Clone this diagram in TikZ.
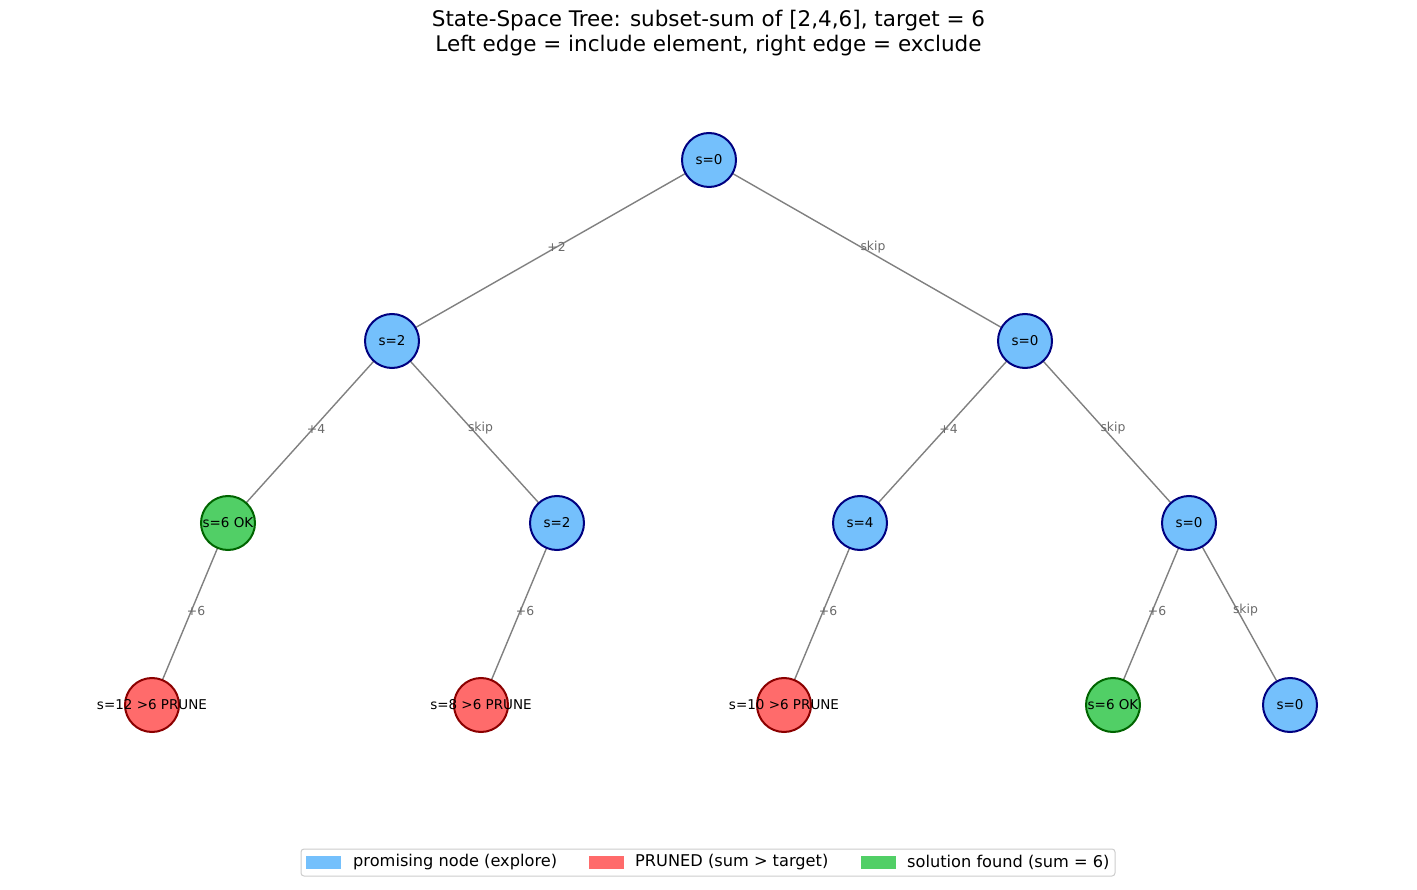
\documentclass[tikz,border=0pt]{standalone}
\usepackage{fontspec}
\setmainfont{DejaVu Sans}
\definecolor{pblue}{HTML}{74C0FC}
\definecolor{pred}{HTML}{FF6B6B}
\definecolor{pgreen}{HTML}{51CF66}
\definecolor{bnavy}{HTML}{000080}
\definecolor{bred}{HTML}{8B0000}
\definecolor{bgreen}{HTML}{006400}
\definecolor{edgegray}{HTML}{808080}
\definecolor{labgray}{HTML}{6A6A6A}
\begin{document}
\begin{tikzpicture}[x=1pt,y=-1pt,
  circ/.style={circle,minimum size=54pt,inner sep=0pt,line width=2pt},
  prom/.style={circ,fill=pblue,draw=bnavy},
  prun/.style={circ,fill=pred,draw=bred},
  sol/.style={circ,fill=pgreen,draw=bgreen},
  ntext/.style={font=\fontsize{13.5}{15}\selectfont,text=black,inner sep=0pt},
  tedge/.style={draw=edgegray,line width=1.4pt},
  elab/.style={font=\fontsize{12.4}{14}\selectfont,text=labgray,inner sep=0pt,xshift=6pt,yshift=3.5pt},
  legpatch/.style={minimum width=35pt,minimum height=13pt,inner sep=0pt},
  legtext/.style={font=\fontsize{16.2}{18}\selectfont,anchor=west,inner sep=0pt}
]
\useasboundingbox (0,0) rectangle (1417,890);
\node[font=\fontsize{21.5}{25}\selectfont,align=center] (title) at (708.5,33.5) {State-Space Tree: subset-sum of [2,4,6], target = 6\\Left edge = include element, right edge = exclude};

\coordinate (c0) at (709,160);
\coordinate (c1) at (392,341);
\coordinate (c2) at (1025,341);
\coordinate (c3) at (228,523);
\coordinate (c4) at (557,523);
\coordinate (c5) at (860,523);
\coordinate (c6) at (1189,523);
\coordinate (c7) at (152,705);
\coordinate (c8) at (481,705);
\coordinate (c9) at (784,705);
\coordinate (c10) at (1113,705);
\coordinate (c11) at (1290,705);

\draw[tedge] (c0) -- node[elab] (e1) {+2} (c1);
\draw[tedge] (c0) -- node[elab] (e2) {skip} (c2);
\draw[tedge] (c1) -- node[elab] (e3) {+4} (c3);
\draw[tedge] (c1) -- node[elab] (e4) {skip} (c4);
\draw[tedge] (c2) -- node[elab] (e5) {+4} (c5);
\draw[tedge] (c2) -- node[elab] (e6) {skip} (c6);
\draw[tedge] (c3) -- node[elab] (e7) {+6} (c7);
\draw[tedge] (c4) -- node[elab] (e8) {+6} (c8);
\draw[tedge] (c5) -- node[elab] (e9) {+6} (c9);
\draw[tedge] (c6) -- node[elab] (e10) {+6} (c10);
\draw[tedge] (c6) -- node[elab] (e11) {skip} (c11);

\node[prom] (n0) at (c0) {};
\node[prom] (n1) at (c1) {};
\node[prom] (n2) at (c2) {};
\node[sol]  (n3) at (c3) {};
\node[prom] (n4) at (c4) {};
\node[prom] (n5) at (c5) {};
\node[prom] (n6) at (c6) {};
\node[prun] (n7) at (c7) {};
\node[prun] (n8) at (c8) {};
\node[prun] (n9) at (c9) {};
\node[sol]  (n10) at (c10) {};
\node[prom] (n11) at (c11) {};

\node[ntext] (t0) at (n0) {s=0};
\node[ntext] (t1) at (n1) {s=2};
\node[ntext] (t2) at (n2) {s=0};
\node[ntext] (t3) at (n3) {s=6 OK};
\node[ntext] (t4) at (n4) {s=2};
\node[ntext] (t5) at (n5) {s=4};
\node[ntext] (t6) at (n6) {s=0};
\node[ntext] (t7) at (n7) {s=12 >6 PRUNE};
\node[ntext] (t8) at (n8) {s=8 >6 PRUNE};
\node[ntext] (t9) at (n9) {s=10 >6 PRUNE};
\node[ntext] (t10) at (n10) {s=6 OK};
\node[ntext] (t11) at (n11) {s=0};

% legend
\draw[draw=black!20,line width=1pt,rounded corners=3pt,fill=white] (301,849) rectangle (1115,876);
\node[legpatch,fill=pblue] (lp1) at (323.5,862) {};
\node[legtext] (lt1) at (353,862.5) {promising node (explore)};
\node[legpatch,fill=pred] (lp2) at (606,862) {};
\node[legtext] (lt2) at (635,862.5) {PRUNED (sum > target)};
\node[legpatch,fill=pgreen] (lp3) at (878,862) {};
\node[legtext] (lt3) at (907,862.5) {solution found (sum = 6)};
\end{tikzpicture}
\end{document}
